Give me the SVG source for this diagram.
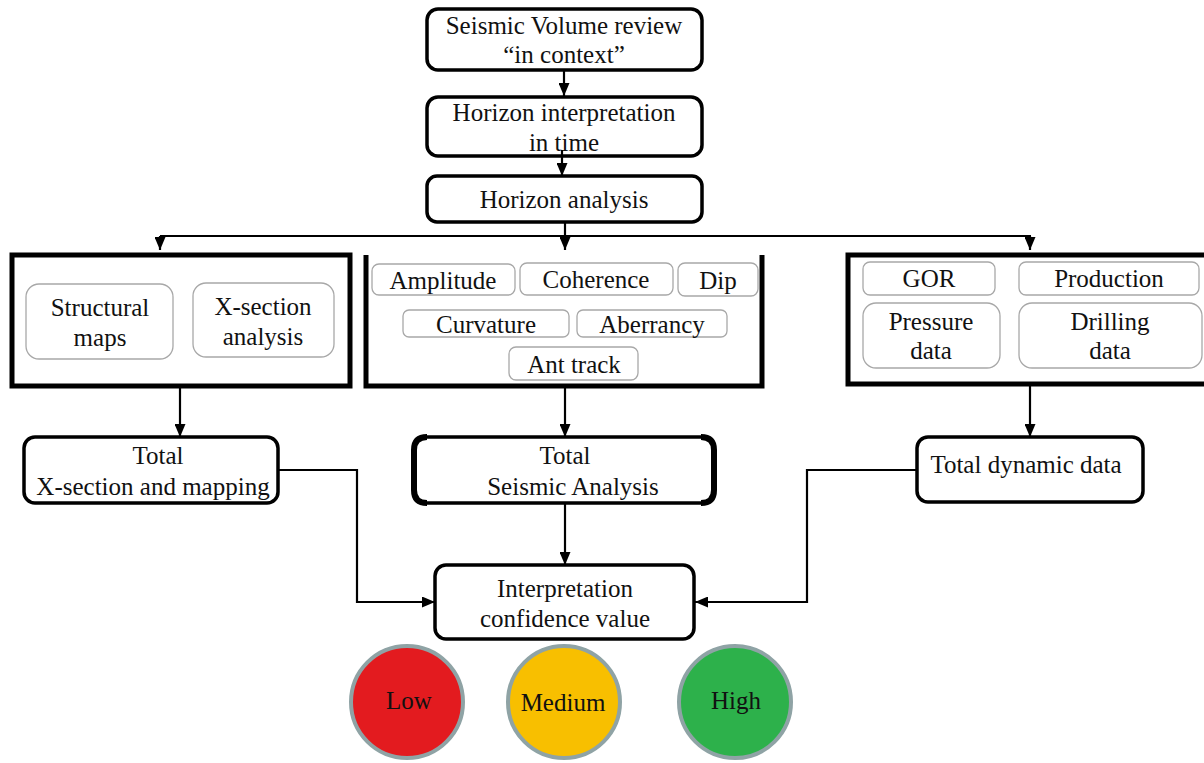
<svg xmlns="http://www.w3.org/2000/svg" width="1204" height="763" viewBox="0 0 1204 763">
  <defs>
    <marker id="arrow" viewBox="0 0 13 11" refX="13" refY="5.5" markerWidth="13" markerHeight="11" markerUnits="userSpaceOnUse" orient="auto">
      <path d="M0,0 L13,5.5 L0,11 Z" fill="#000"/>
    </marker>
  </defs>
  <style>
    text { font-family: "Liberation Serif", "Times New Roman", serif; font-size: 25px; fill: #111; text-anchor: middle; }
    .step { fill: #fff; stroke: #000; stroke-width: 3.5; }
    .group { fill: #fff; stroke: #000; stroke-width: 5; }
    .item { fill: #fff; stroke: #a8a8a8; stroke-width: 1.3; }
    .wire { fill: none; stroke: #000; stroke-width: 2.2; }
    .light { stroke: #8fa3a5; stroke-width: 4; }
  </style>
  <rect width="1204" height="763" fill="#fff"/>

  <!-- connectors -->
  <g id="connectors">
    <line class="wire" x1="564" y1="71" x2="564" y2="96" marker-end="url(#arrow)"/>
    <line class="wire" x1="565" y1="222" x2="565" y2="236"/>
    <line class="wire" x1="160" y1="236" x2="1031" y2="236"/>
    <line class="wire" x1="160" y1="236" x2="160" y2="250" marker-end="url(#arrow)"/>
    <line class="wire" x1="565" y1="236" x2="565" y2="250" marker-end="url(#arrow)"/>
    <line class="wire" x1="1030" y1="236" x2="1030" y2="250" marker-end="url(#arrow)"/>
    <line class="wire" x1="180" y1="387" x2="180" y2="437" marker-end="url(#arrow)"/>
    <line class="wire" x1="565" y1="387" x2="565" y2="437" marker-end="url(#arrow)"/>
    <line class="wire" x1="1030" y1="386" x2="1030" y2="437" marker-end="url(#arrow)"/>
    <line class="wire" x1="565" y1="503" x2="565" y2="565" marker-end="url(#arrow)"/>
    <polyline class="wire" points="278,470 357,470 357,602 435,602" marker-end="url(#arrow)"/>
    <polyline class="wire" points="916,470 807,470 807,602 695,602" marker-end="url(#arrow)"/>
  </g>

  <g id="seismic-volume">
    <rect class="step" x="427" y="9" width="275" height="61" rx="11"/>
    <text x="564" y="34">Seismic Volume review</text>
    <text x="564" y="63">“in context”</text>
  </g>

  <g id="horizon-interpretation">
    <rect class="step" x="427" y="97" width="275" height="59" rx="11"/>
    <text x="564" y="121">Horizon interpretation</text>
    <text x="564" y="151">in time</text>
  </g>
  <!-- arrow drawn over the text of the box above -->
  <line class="wire" x1="562" y1="150" x2="562" y2="176" marker-end="url(#arrow)"/>

  <g id="horizon-analysis">
    <rect class="step" x="427" y="176" width="275" height="46" rx="10"/>
    <text x="564" y="208">Horizon analysis</text>
  </g>

  <g id="mapping-group">
    <rect class="group" x="12" y="255" width="338" height="131"/>
    <rect class="item" x="26" y="284" width="147" height="75" rx="13"/>
    <text x="100" y="316">Structural</text>
    <text x="100" y="346">maps</text>
    <rect class="item" x="193" y="283" width="141" height="74" rx="13"/>
    <text x="263" y="315">X-section</text>
    <text x="263" y="345">analysis</text>
  </g>

  <g id="attribute-group">
    <polyline fill="none" stroke="#000" stroke-width="5" points="366,255 366,386 762,386 762,255"/>
    <rect class="item" x="372" y="264" width="143" height="31" rx="7"/>
    <text x="443" y="289">Amplitude</text>
    <rect class="item" x="520" y="263" width="153" height="32" rx="7"/>
    <text x="596" y="288">Coherence</text>
    <rect class="item" x="678" y="263" width="80" height="33" rx="7"/>
    <text x="718" y="289">Dip</text>
    <rect class="item" x="403" y="310" width="166" height="27" rx="6"/>
    <text x="486" y="333">Curvature</text>
    <rect class="item" x="577" y="310" width="150" height="27" rx="6"/>
    <text x="652" y="333">Aberrancy</text>
    <rect class="item" x="509" y="347" width="129" height="33" rx="7"/>
    <text x="574" y="373">Ant track</text>
  </g>

  <g id="dynamic-group">
    <rect class="group" x="848" y="255" width="362" height="129"/>
    <rect class="item" x="863" y="262" width="132" height="33" rx="7"/>
    <text x="929" y="287">GOR</text>
    <rect class="item" x="1019" y="262" width="180" height="33" rx="7"/>
    <text x="1109" y="287">Production</text>
    <rect class="item" x="863" y="303" width="137" height="65" rx="13"/>
    <text x="931" y="330">Pressure</text>
    <text x="931" y="359">data</text>
    <rect class="item" x="1019" y="303" width="183" height="65" rx="13"/>
    <text x="1110" y="330">Drilling</text>
    <text x="1110" y="359">data</text>
  </g>

  <g id="total-mapping">
    <rect class="step" x="24" y="437" width="254" height="66" rx="11"/>
    <text x="158" y="464">Total</text>
    <text x="153" y="495">X-section and mapping</text>
  </g>

  <g id="total-seismic">
    <rect class="step" x="414" y="437" width="300" height="66" rx="13"/>
    <path d="M427,437 Q414,437 414,450 L414,490 Q414,503 427,503" fill="none" stroke="#000" stroke-width="6"/>
    <path d="M701,437 Q714,437 714,450 L714,490 Q714,503 701,503" fill="none" stroke="#000" stroke-width="6"/>
    <text x="565" y="464">Total</text>
    <text x="573" y="495">Seismic Analysis</text>
  </g>

  <g id="total-dynamic">
    <rect class="step" x="917" y="437" width="226" height="65" rx="11"/>
    <text x="1026" y="473">Total dynamic data</text>
  </g>

  <g id="confidence">
    <rect class="step" x="435" y="565" width="259" height="74" rx="11"/>
    <text x="565" y="597">Interpretation</text>
    <text x="565" y="627">confidence value</text>
  </g>

  <g id="low">
    <circle class="light" cx="407" cy="702" r="56" fill="#e31b1f"/>
    <text x="409" y="709">Low</text>
  </g>
  <g id="medium">
    <circle class="light" cx="564" cy="702" r="56" fill="#f8bf00"/>
    <text x="563" y="711">Medium</text>
  </g>
  <g id="high">
    <circle class="light" cx="735" cy="702" r="56" fill="#2db14b"/>
    <text x="736" y="709">High</text>
  </g>
</svg>
